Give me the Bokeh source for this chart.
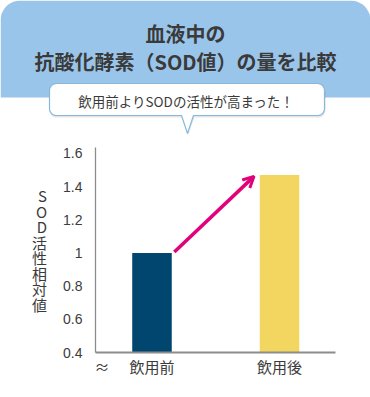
import math
from bokeh.plotting import figure
from bokeh.layouts import column
from bokeh.models import Range1d, FixedTicker, Arrow, OpenHead
from bokeh.core.properties import value
from bokeh.embed import file_html
from bokeh.resources import INLINE

# ---- data ----
categories = ["飲用前", "飲用後"]
sod_values = [1.0, 1.47]
bar_colors = ["#00466f", "#f3d660"]
y_ticks = [0.4, 0.6, 0.8, 1.0, 1.2, 1.4, 1.6]
y_tick_labels = ["0.4", "0.6", "0.8", "1", "1.2", "1.4", "1.6"]
title_lines = ["血液中の", "抗酸化酵素（SOD値）の量を比較"]
callout_text = "飲用前よりSODの活性が高まった！"
y_label = "SOD活性相対値"
break_mark = "≈"

JPF = "Noto Sans CJK JP"
JP = value(JPF)


def rounded_path(x0, y0, x1, y1, r, pointer=None, n=10):
    xs, ys = [], []

    def arc(cx, cy, a0, a1):
        for i in range(n + 1):
            a = math.radians(a0 + (a1 - a0) * i / n)
            xs.append(cx + r * math.cos(a))
            ys.append(cy + r * math.sin(a))

    arc(x1 - r, y0 + r, -90, 0)
    arc(x1 - r, y1 - r, 0, 90)
    if pointer:
        for px, py in pointer:
            xs.append(px)
            ys.append(py)
    arc(x0 + r, y1 - r, 90, 180)
    arc(x0 + r, y0 + r, 180, 270)
    return xs, ys


# ---- top figure: header + callout ----
pA = figure(width=370, height=140, x_range=Range1d(0, 370), y_range=Range1d(140, 0),
            output_backend="svg", toolbar_location=None, min_border=0,
            x_axis_location=None, y_axis_location=None, outline_line_color=None,
            background_fill_color="white", border_fill_color="white")
pA.frame_align = False
pA.xgrid.grid_line_color = None
pA.ygrid.grid_line_color = None

# header with rounded top corners
hx, hy = [], []
for i in range(11):
    a = math.radians(180 + 90 * i / 10)
    hx.append(20 + 20 * math.cos(a)); hy.append(20 + 20 * math.sin(a))
for i in range(11):
    a = math.radians(270 + 90 * i / 10)
    hx.append(350 + 20 * math.cos(a)); hy.append(20 + 20 * math.sin(a))
hx += [370, 0]; hy += [97, 97]
pA.patch(hx, hy, fill_color="#9ac5ea", line_color=None)

pA.text(x=[185, 185], y=[33, 61], text=title_lines, text_font=JP,
        text_font_size="20px", text_font_style="bold", text_color="#3a3a3a",
        text_align="center", text_baseline="middle")

# callout shadow + box with pointer
sx, sy = rounded_path(49, 84.5, 325, 117, 7, pointer=[(194, 117), (187.5, 134.5), (182, 117)])
pA.patch(sx, sy, fill_color="#000000", fill_alpha=0.10, line_color=None)
cx, cy = rounded_path(49, 83, 324, 115, 7, pointer=[(193, 115), (187, 133), (181, 115)])
pA.patch(cx, cy, fill_color="white", line_color="#86b8dc", line_width=1.2)
pA.text(x=[186], y=[100], text=[callout_text], text_font=JP, text_font_size="13.5px",
        text_color="#3a3a3a", text_align="center", text_baseline="middle")

# ---- bottom figure: bar chart ----
xpos = list(range(len(categories)))
bar_w = 0.31
x_lo, x_hi = -0.443, 1.439
pB = figure(width=370, height=257, x_range=Range1d(x_lo, x_hi), y_range=Range1d(0.4, 1.636),
            output_backend="svg", toolbar_location=None,
            min_border_left=95, min_border_right=35, min_border_top=7, min_border_bottom=45,
            outline_line_color=None, background_fill_color="white", border_fill_color="white")
pB.frame_align = False
pB.xgrid.grid_line_color = None
pB.ygrid.grid_line_color = None

pB.vbar(x=xpos, top=sod_values, bottom=y_ticks[0], width=bar_w,
        fill_color=bar_colors, line_color=None)

pB.add_layout(Arrow(end=OpenHead(line_color="#e2007b", line_width=3, size=11),
                    x_start=xpos[0] + bar_w / 2 + 0.02, y_start=sod_values[0] + 0.006,
                    x_end=xpos[1] - bar_w / 2 - 0.045, y_end=sod_values[1] - 0.008,
                    line_color="#e2007b", line_width=3.5))

ya = pB.yaxis[0]
ya.ticker = FixedTicker(ticks=y_ticks)
ya.major_label_overrides = dict(zip(y_ticks, y_tick_labels))
ya.major_tick_line_color = None
ya.minor_tick_line_color = None
ya.axis_line_color = "#8c8c8c"
ya.axis_line_width = 1.3
ya.major_label_standoff = 7
ya.major_label_text_font = "Liberation Sans"
ya.major_label_text_font_size = "14px"
ya.major_label_text_color = "#3c3c3c"
ya.axis_label = "\n".join(y_label)
ya.axis_label_orientation = "horizontal"
ya.axis_label_text_font = JPF
ya.axis_label_text_font_size = "15px"
ya.axis_label_text_font_style = "normal"
ya.axis_label_text_color = "#3a3a3a"
ya.axis_label_text_line_height = 0.74
ya.axis_label_standoff = 13

break_x = x_lo + 0.05
xa = pB.xaxis[0]
xa.ticker = FixedTicker(ticks=[break_x] + xpos)
xa.major_label_overrides = dict(zip([break_x] + xpos, [break_mark] + categories))
xa.major_tick_line_color = None
xa.minor_tick_line_color = None
xa.axis_line_color = "#8c8c8c"
xa.axis_line_width = 2
xa.major_label_standoff = -3
xa.major_label_text_font = JPF
xa.major_label_text_font_size = "15px"
xa.major_label_text_color = "#3a3a3a"

layout = column(pA, pB, spacing=0)
open("out.html", "w").write(file_html(layout, INLINE))
